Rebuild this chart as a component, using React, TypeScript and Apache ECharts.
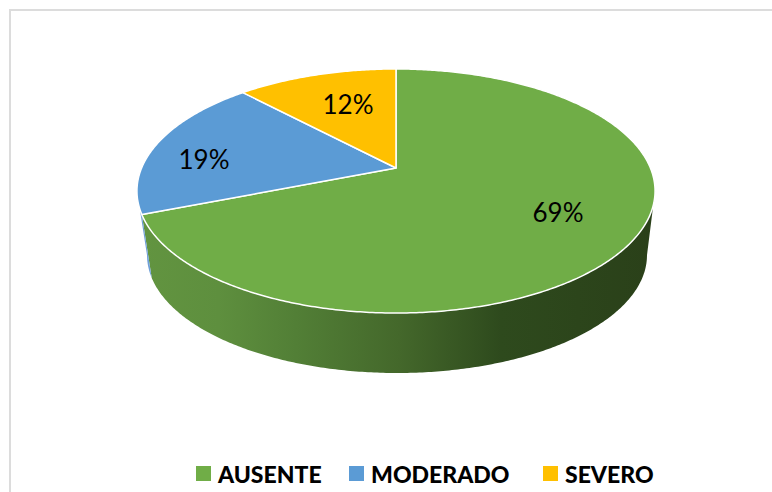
import React, { useEffect, useRef } from "react";
import * as echarts from "echarts";

const categories = ["AUSENTE", "MODERADO", "SEVERO"];
const percentages = [69, 19, 12];
const sliceColors = ["#70AD47", "#5B9BD5", "#FFC000"];
const LABEL_FONT = "Lato, sans-serif";

// Perspective projection of the pie's top and bottom discs
const TOP = { cx: 396, cy: 168, a: 254.4, b: 117.7, p: 0.1885 };
const BOTTOM = { cx: 397, cy: 233, a: 245.5, b: 113.6, p: 0.1885 };
const LABEL_ANCHORS = [
  [558, 212],
  [204, 159],
  [348, 104],
];
const LEGEND_LEFT = [196, 349, 543];

const total = percentages.reduce((s, v) => s + v, 0);
const startPct = (i: number) => percentages.slice(0, i).reduce((s, v) => s + v, 0);
const toAngle = (pct: number) => (pct / total) * Math.PI * 2;

function project(d: typeof TOP, angle: number, r = 1): number[] {
  const u = r * Math.sin(angle);
  const v = r * Math.cos(angle);
  const k = 1 + d.p * v;
  return [d.cx + (d.a * u) / k, d.cy - (d.b * v) / k];
}

function arc(d: typeof TOP, from: number, to: number): number[][] {
  const pts: number[][] = [];
  const n = Math.max(2, Math.ceil(Math.abs(to - from) / 0.01));
  for (let i = 0; i <= n; i++) pts.push(project(d, from + ((to - from) * i) / n));
  return pts;
}

const RIGHT_TANGENT = Math.acos(-TOP.p);
const LEFT_TANGENT = Math.PI * 2 - RIGHT_TANGENT;

const wallGradient = {
  type: "linear",
  x: 0,
  y: 0,
  x2: 1,
  y2: 0,
  colorStops: [
    { offset: 0, color: "#629440" },
    { offset: 0.15, color: "#5e8f3e" },
    { offset: 0.3, color: "#527f36" },
    { offset: 0.5, color: "#44682b" },
    { offset: 0.7, color: "#2e4a1d" },
    { offset: 1, color: "#2a4019" },
  ],
};

function renderWalls(_: any, api: any) {
  const i = api.value(0);
  const from = toAngle(startPct(i));
  const to = toAngle(startPct(i) + percentages[i]);
  const a = Math.max(from, RIGHT_TANGENT);
  const b = Math.min(to, LEFT_TANGENT);
  if (b <= a) return { type: "group", children: [] };
  const pts = arc(TOP, a, b).concat(arc(BOTTOM, b, a));
  return {
    type: "polygon",
    shape: { points: pts },
    style: { fill: i === 0 ? wallGradient : "#6f9fd8" },
    silent: true,
  };
}

function renderTop(_: any, api: any) {
  const i = api.value(0);
  const from = toAngle(startPct(i));
  const to = toAngle(startPct(i) + api.value(1));
  const pts = [[TOP.cx, TOP.cy], ...arc(TOP, from, to)];
  return {
    type: "polygon",
    shape: { points: pts },
    style: { fill: sliceColors[i], stroke: "#ffffff", lineWidth: 1.5, lineJoin: "round" },
  };
}

function renderLabel(_: any, api: any) {
  const i = api.value(0);
  const [x, y] = LABEL_ANCHORS[i];
  return {
    type: "text",
    x,
    y,
    style: {
      text: `${api.value(1)}%`,
      fill: "#000000",
      font: `400 26px ${LABEL_FONT}`,
      align: "center",
      verticalAlign: "middle",
    },
    silent: true,
  };
}

export default function App() {
  const ref = useRef<HTMLDivElement>(null);
  useEffect(() => {
    document.body.style.margin = "0";
    const chart = echarts.init(ref.current!, null, { renderer: "svg" });
    const rows = percentages.map((v, i) => [i, v]);
    chart.setOption({
      animation: false,
      backgroundColor: "#ffffff",
      legend: categories.map((name, i) => ({
        left: LEGEND_LEFT[i],
        top: 462,
        padding: 0,
        itemWidth: 15,
        itemHeight: 15,
        icon: "rect",
        selectedMode: false,
        textStyle: {
          fontFamily: LABEL_FONT,
          fontWeight: 900,
          fontSize: 23,
          color: "#000000",
          padding: [11, 0, 0, 2],
        },
        data: [{ name, itemStyle: { color: sliceColors[i] } }],
      })),
      graphic: [
        {
          type: "polyline",
          shape: { points: [[10, 492], [10, 10], [772, 10]] },
          style: { stroke: "#dcdcdc", lineWidth: 2, fill: "none" },
          silent: true,
        },
      ],
      series: [
        {
          type: "custom",
          name: "wall",
          coordinateSystem: "none",
          renderItem: renderWalls,
          data: rows,
          z: 1,
        },
        ...categories.map((name, i) => ({
          type: "custom",
          name,
          coordinateSystem: "none",
          renderItem: renderTop,
          itemStyle: { color: sliceColors[i] },
          data: [rows[i]],
          z: 2,
        })),
        {
          type: "custom",
          name: "labels",
          coordinateSystem: "none",
          renderItem: renderLabel,
          data: rows,
          z: 3,
        },
      ],
    });
    return () => chart.dispose();
  }, []);
  return <div ref={ref} style={{ width: 772, height: 492 }} />;
}
